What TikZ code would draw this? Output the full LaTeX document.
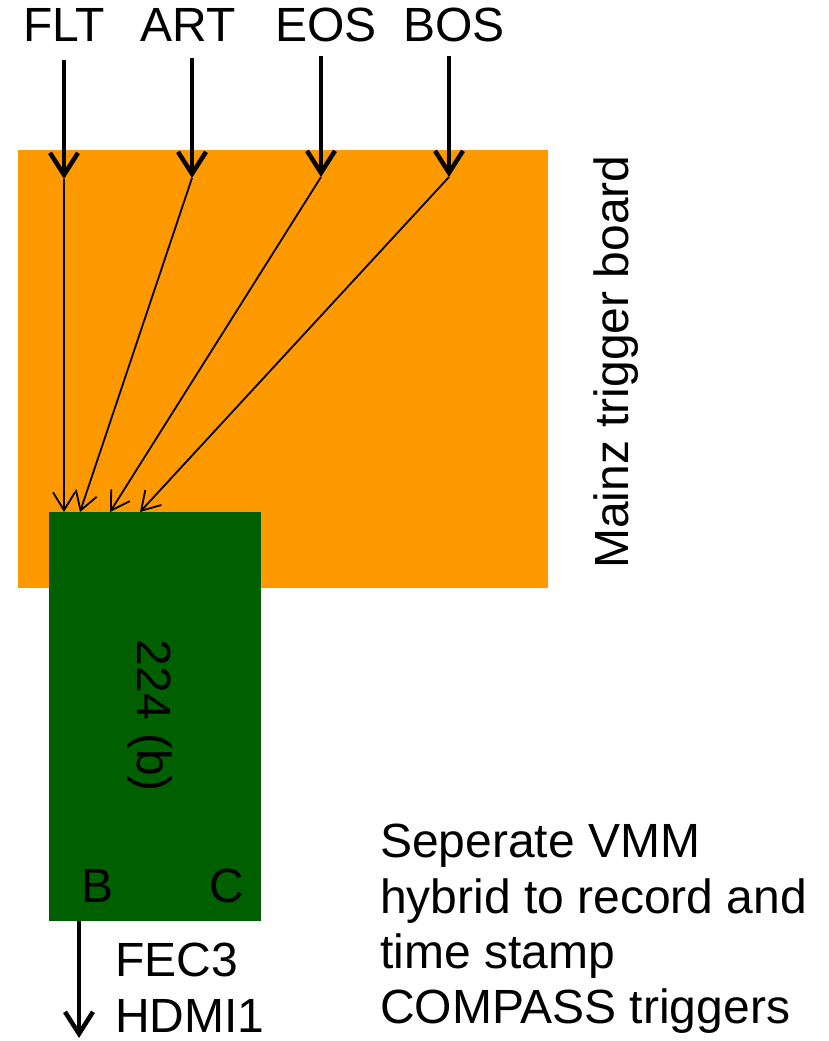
\documentclass[tikz,border=0pt]{standalone}
\usepackage{fontspec}
\setmainfont{Liberation Sans}
\usetikzlibrary{arrows.meta}
\definecolor{boardorange}{RGB}{255,153,0}
\definecolor{hybgreen}{RGB}{0,96,0}
\begin{document}
\begin{tikzpicture}[x=1pt,y=-1pt,
  lbl/.style={font=\fontsize{48}{56}\selectfont, inner sep=0pt},
  thickarr/.style={line width=4.5pt, -{Straight Barb[length=22pt,width=28pt]}},
  thinarr/.style={line width=1.8pt, -{Straight Barb[length=18pt,width=22pt]}}]
\useasboundingbox (0,0) rectangle (828,1041);
% boards
\fill[boardorange] (18,150) rectangle (548,588);
\node[fill=hybgreen, minimum width=212pt, minimum height=409pt, inner sep=0pt, anchor=north west] (hyb) at (49,512) {};
% top labels
\node[lbl, anchor=base] (flt) at (64,42) {FLT};
\node[lbl, anchor=base] (art) at (188,42) {ART};
\node[lbl, anchor=base] (eos) at (326,42) {EOS};
\node[lbl, anchor=base] (bos) at (454,42) {BOS};
% arrow coordinates
\coordinate (s1) at (64,60);  \coordinate (t1) at (64,179);
\coordinate (s2) at (192,58); \coordinate (t2) at (192,178);
\coordinate (s3) at (321,56); \coordinate (t3) at (321,177);
\coordinate (s4) at (449,56); \coordinate (t4) at (449,177);
\coordinate (e1) at (64,512);
\coordinate (e2) at (80,512);
\coordinate (e3) at (110,512);
\coordinate (e4) at (140,512);
\draw[thickarr] (s1) -- (t1);
\draw[thickarr] (s2) -- (t2);
\draw[thickarr] (s3) -- (t3);
\draw[thickarr] (s4) -- (t4);
\draw[thinarr] (t1) -- (e1);
\draw[thinarr] (t2) -- (e2);
\draw[thinarr] (t3) -- (e3);
\draw[thinarr] (t4) -- (e4);
% labels on boards
\node[lbl, rotate=90] (mainz) at (616,362) {Mainz trigger board};
\node[lbl, rotate=-90] (n224) at (150,716) {224 (b)};
\node[lbl, anchor=base] (b) at (98,902) {B};
\node[lbl, anchor=base] (c) at (227,902) {C};
% output
\coordinate (o1) at (79,921);
\coordinate (o2) at (79,1038);
\draw[thickarr] (o1) -- (o2);
\node[lbl, anchor=base west] (fec) at (115,976) {FEC3};
\node[lbl, anchor=base west] (hdmi) at (115,1032) {HDMI1};
% note
\node[lbl, anchor=base west] (n1) at (380,857) {Seperate VMM};
\node[lbl, anchor=base west] (n2) at (380,913) {hybrid to record and};
\node[lbl, anchor=base west] (n3) at (380,968) {time stamp};
\node[lbl, anchor=base west] (n4) at (380,1023) {COMPASS triggers};
\end{tikzpicture}
\end{document}
